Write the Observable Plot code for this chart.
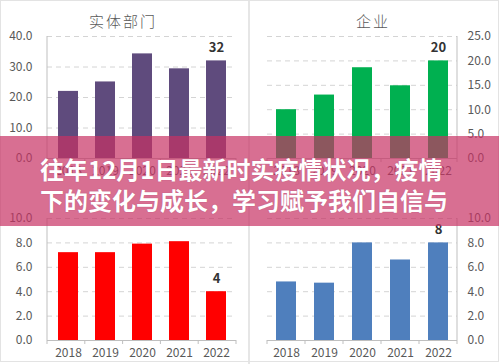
<!DOCTYPE html>
<html>
<head>
<meta charset="utf-8">
<script src="https://cdn.jsdelivr.net/npm/d3@7"></script>
<script src="https://cdn.jsdelivr.net/npm/@observablehq/plot@0.6"></script>
<style>
  html, body { margin: 0; padding: 0; background: #fff; }
  #wrap { position: relative; width: 499px; height: 364px; overflow: hidden; background: #fff; font-family: "Noto Sans CJK SC", "Noto Sans", sans-serif; }
  .panel { position: absolute; }
  .ptitle { position: absolute; color: #595959; font-size: 15px; letter-spacing: 2px; font-family: "Noto Sans CJK SC", sans-serif; font-weight: 300; text-align: center; }
  #band { position: absolute; left: 0; top: 136px; width: 499px; height: 90px; background: rgba(200, 50, 100, 0.7); }
  #band .line { position: absolute; left: 40px; color: #fff; font-weight: 700; font-size: 24px; line-height: 31px; white-space: nowrap; font-family: "Noto Sans CJK SC", sans-serif; text-shadow: 0 0 1px rgba(120,20,60,0.4); }
  #border { position: absolute; left: 0; top: 0; width: 497px; height: 360px; border: 1px solid #e3e3e3; pointer-events: none; }
  #sep { position: absolute; left: 248px; top: 0; width: 2px; height: 364px; background: #e6e6e6; }
</style>
</head>
<body>
<div id="wrap"></div>
<script>
const years = ["2018", "2019", "2020", "2021", "2022"];
const entityTitle = "实体部门";
const entityValues = [22, 25.1, 34.3, 29.4, 32];
const entityTicks = [0, 10, 20, 30, 40];
const firmTitle = "企业";
const firmValues = [10, 13, 18.6, 14.9, 20];
const firmTicks = [0, 5, 10, 15, 20, 25];
const redValues = [7.2, 7.2, 7.9, 8.1, 4];
const redTicks = [0, 2, 4, 6, 8, 10];
const blueValues = [4.8, 4.7, 8.0, 6.6, 8];
const blueTicks = [0, 2, 4, 6, 8, 10];
const headline = ["往年12月1日最新时实疫情状况，疫情", "下的变化与成长，学习赋予我们自信与"];

const wrap = document.getElementById("wrap");
const fmt = d3.format(".1f");

function panel({values, ticks, color, side, left, top, label}) {
  const W = 250, H = 182;
  const ml = side === "left" ? 47 : 18;
  const mr = side === "left" ? 14 : 42;
  const mt = 36, mb = 24;
  const data = years.map((y, i) => ({year: y, value: values[i]}));
  const last = data[data.length - 1];
  const chart = Plot.plot({
    width: W, height: H,
    marginLeft: ml, marginRight: mr, marginTop: mt, marginBottom: mb,
    style: {background: "transparent", fontFamily: "'Noto Sans CJK SC', 'Noto Sans', sans-serif", color: "#595959"},
    x: {type: "band", domain: years, paddingInner: 0.47, paddingOuter: 0.235, label: null},
    y: {domain: [0, d3.max(ticks)], label: null},
    marks: [
      Plot.gridY(ticks.filter(t => t > 0), {stroke: "#d4d4d4", strokeOpacity: 1, strokeDasharray: "5,4"}),
      Plot.barY(data, {x: "year", y: "value", fill: color}),
      Plot.ruleY([0], {stroke: "#bfbfbf"}),
      Plot.axisY(ticks, {anchor: side, tickSize: 0, tickPadding: side === "left" ? 15 : 10, tickFormat: fmt, fontSize: 12, fill: "#595959", label: null}),
      Plot.axisX({tickSize: 0, tickPadding: 8, fontSize: 12, fill: "#595959", label: null}),
      Plot.text([last], {x: "year", y: "value", text: d => label, dy: -13, fontSize: 13, fontWeight: "bold", fill: "#333"})
    ]
  });
  const svg = d3.select(chart.tagName === "svg" ? chart : chart.querySelector("svg"));
  const axX = side === "left" ? ml : W - mr;
  svg.append("line").attr("x1", axX).attr("x2", axX).attr("y1", mt).attr("y2", H - mb).attr("stroke", "#bfbfbf");
  const step = (W - ml - mr) / years.length;
  for (let i = 0; i <= years.length; i++) {
    const x = ml + i * step;
    svg.append("line").attr("x1", x).attr("x2", x).attr("y1", H - mb).attr("y2", H - mb + 4).attr("stroke", "#bfbfbf");
  }
  const div = document.createElement("div");
  div.className = "panel";
  div.style.left = left + "px";
  div.style.top = top + "px";
  div.appendChild(chart);
  wrap.appendChild(div);
}

panel({values: entityValues, ticks: entityTicks, color: "#5f4b7d", side: "left", left: 0, top: 0, label: "32"});
panel({values: firmValues, ticks: firmTicks, color: "#00b050", side: "right", left: 249, top: 0, label: "20"});
panel({values: redValues, ticks: redTicks, color: "#ff0000", side: "left", left: 0, top: 182, label: "4"});
panel({values: blueValues, ticks: blueTicks, color: "#4f7fbd", side: "right", left: 249, top: 182, label: "8"});

function title(text, cx, cy) {
  const d = document.createElement("div");
  d.className = "ptitle";
  d.textContent = text;
  d.style.left = (cx - 60) + "px";
  d.style.width = "120px";
  d.style.top = (cy - 11) + "px";
  wrap.appendChild(d);
}
title(entityTitle, 123, 21);
title(firmTitle, 373, 21);

const sep = document.createElement("div"); sep.id = "sep"; wrap.appendChild(sep);
const border = document.createElement("div"); border.id = "border"; wrap.appendChild(border);

const band = document.createElement("div");
band.id = "band";
headline.forEach((t, i) => {
  const l = document.createElement("div");
  l.className = "line";
  l.textContent = t;
  l.style.top = (17 + i * 31) + "px";
  band.appendChild(l);
});
wrap.appendChild(band);
</script>
</body>
</html>
